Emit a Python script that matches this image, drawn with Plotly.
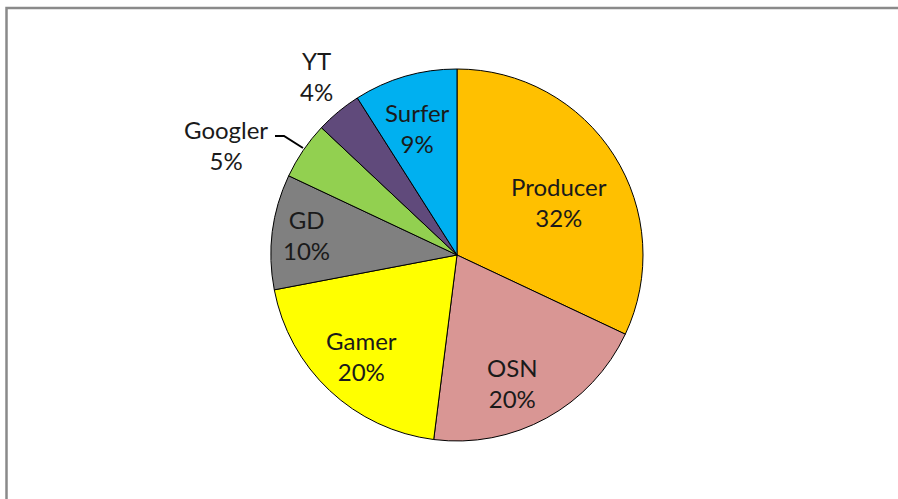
import plotly.graph_objects as go

W, H = 898, 499

labels = ["Producer", "OSN", "Gamer", "GD", "Googler", "YT", "Surfer"]
values = [32, 20, 20, 10, 5, 4, 9]
colors = ["#FFC000", "#D99694", "#FFFF00", "#808080", "#92D050", "#604A7B", "#00B0F0"]

# label centre positions in pixels (x, y of the two-line block)
label_pos = [(559, 202), (512, 383), (361, 356), (306, 235), (226, 145), (316, 76), (417, 128)]

cx, cy, r = 457, 255, 186

fig = go.Figure(go.Pie(
    labels=labels, values=values, sort=False, direction="clockwise", rotation=0,
    marker=dict(colors=colors, line=dict(color="#000000", width=1)),
    textinfo="none", hoverinfo="label+percent", showlegend=False,
    domain=dict(x=[(cx - r) / W, (cx + r) / W], y=[1 - (cy + r) / H, 1 - (cy - r) / H]),
))

def px(x):
    return x / W

def py(y):
    return 1 - y / H

for lab, val, (x, y) in zip(labels, values, label_pos):
    fig.add_annotation(x=px(x), y=py(y), xref="paper", yref="paper",
                       text=f"{lab}<br>{val}%", showarrow=False,
                       font=dict(family="Lato", size=24, color="#1a1a1a"),
                       xanchor="center", yanchor="middle", align="center")

# leader line for Googler
fig.add_shape(type="path", xref="paper", yref="paper",
              path=f"M {px(275)} {py(136)} L {px(284)} {py(136)} L {px(303)} {py(148)}",
              line=dict(color="#000000", width=2))

# frame
fig.add_shape(type="rect", xref="paper", yref="paper",
              x0=px(6.5), y0=py(540), x1=px(940), y1=py(8),
              line=dict(color="#8a8a8a", width=2.5), fillcolor="rgba(0,0,0,0)")

fig.update_layout(width=W, height=H, margin=dict(l=0, r=0, t=0, b=0),
                  paper_bgcolor="white", plot_bgcolor="white")

fig.write_html("out.html", config={"displayModeBar": False},
               post_script="document.body.style.margin='0';")
